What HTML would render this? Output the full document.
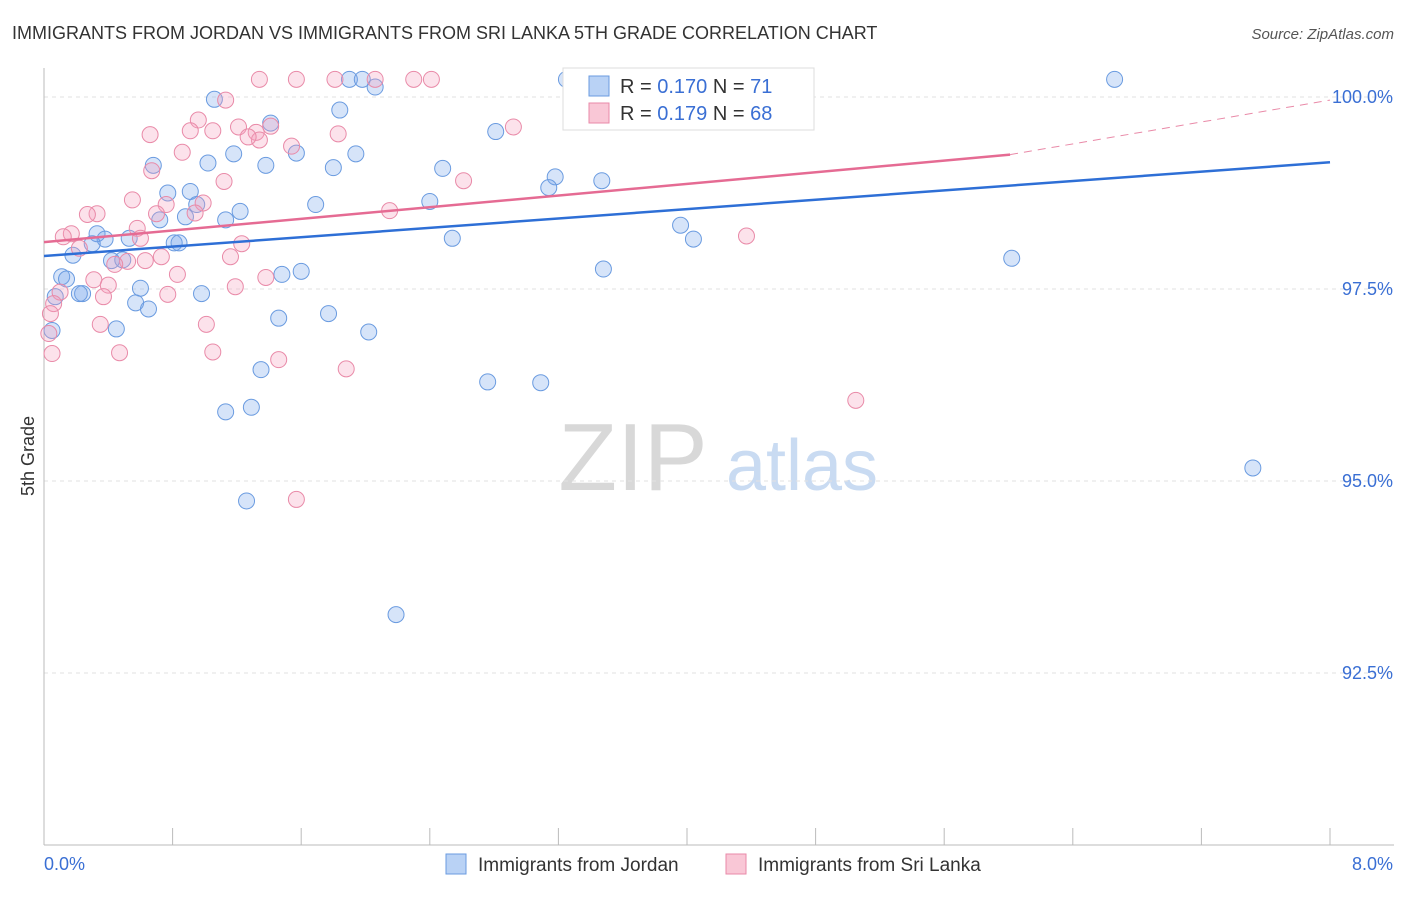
<!DOCTYPE html>
<html><head><meta charset="utf-8"><style>
body{margin:0;background:#fff;font-family:"Liberation Sans",sans-serif}
svg text{font-family:"Liberation Sans",sans-serif}
</style></head><body>
<svg id="chart" width="1406" height="892" viewBox="0 0 1406 892" xmlns="http://www.w3.org/2000/svg">
<text x="12" y="39" font-size="18" fill="#333">IMMIGRANTS FROM JORDAN VS IMMIGRANTS FROM SRI LANKA 5TH GRADE CORRELATION CHART</text>
<text x="1394" y="39" font-size="15" fill="#555" font-style="italic" text-anchor="end">Source: ZipAtlas.com</text>
<g>
<text x="633" y="490" font-size="96" fill="#d8d8d8" font-family="Liberation Serif" text-anchor="middle">ZIP</text>
<text x="802" y="490" font-size="72" fill="#c9dbf2" text-anchor="middle">atlas</text>
</g>
<g id="grid"></g>
<g id="axes"></g>
<g id="marks"></g>
<text x="34" y="456" font-size="18" fill="#333" transform="rotate(-90 34 456)" text-anchor="middle">5th Grade</text>
<g>
<rect x="563" y="68" width="251" height="62" fill="#fff" stroke="#ddd"/>
<rect x="589" y="76" width="20" height="20" fill="#b9d2f5" stroke="#6a9be0"/>
<rect x="589" y="103" width="20" height="20" fill="#f9c7d6" stroke="#e98aa8"/>
<text x="620" y="93" font-size="20" fill="#333">R = <tspan fill="#3a6fd4">0.170</tspan>   N = <tspan fill="#3a6fd4"> 71</tspan></text>
<text x="620" y="120" font-size="20" fill="#333">R = <tspan fill="#3a6fd4">0.179</tspan>   N = <tspan fill="#3a6fd4">68</tspan></text>
</g>
<g>
<rect x="446" y="854" width="20" height="20" fill="#b9d2f5" stroke="#6a9be0"/>
<text x="478" y="871" font-size="19" fill="#333">Immigrants from Jordan</text>
<rect x="726" y="854" width="20" height="20" fill="#f9c7d6" stroke="#e98aa8"/>
<text x="758" y="871" font-size="19" fill="#333">Immigrants from Sri Lanka</text>
</g>
</svg>
<script>
const xTicks=[0,0.8,1.6,2.4,3.2,4.0,4.8,5.6,6.4,7.2,8.0];
const yTicks=[92.5,95,97.5,100];
const yTickLabels=["92.5%","95.0%","97.5%","100.0%"];
const jordanX=[6.66,1.06,1.84,1.41,2.06,1.90,1.98,3.25,3.40,3.71,4.32,4.58,2.81,1.57,1.94,1.02,1.18,1.38,1.80,2.48,0.68,0.77,0.91,0.95,1.22,1.13,0.88,0.72,1.69,2.40,3.18,3.14,3.47,3.96,4.04,2.54,0.53,0.33,0.38,0.30,0.18,0.81,0.84,0.42,0.49,0.11,0.14,0.07,0.24,0.22,0.60,0.57,0.65,0.98,1.48,1.60,3.48,6.02,0.45,1.46,1.77,2.02,0.05,1.35,2.76,3.09,1.13,1.29,1.26,2.19,7.52];
const jordanY=[100.23,99.97,99.83,99.66,100.13,100.23,100.23,100.23,100.23,100.23,100.23,100.23,99.55,99.27,99.26,99.14,99.26,99.11,99.08,99.07,99.11,98.75,98.77,98.60,98.51,98.40,98.44,98.40,98.60,98.64,98.96,98.82,98.91,98.33,98.15,98.16,98.16,98.22,98.15,98.09,97.94,98.10,98.10,97.87,97.88,97.66,97.63,97.40,97.44,97.44,97.51,97.32,97.24,97.44,97.69,97.73,97.76,97.90,96.98,97.12,97.18,96.94,96.96,96.45,96.29,96.28,95.90,95.96,94.74,93.26,95.17];
const lankaX=[1.13,1.34,1.57,1.81,2.06,2.30,2.41,0.66,0.96,1.21,1.32,1.34,1.41,1.54,1.27,1.83,2.92,1.05,0.91,0.86,1.12,2.61,0.67,0.55,0.76,0.99,0.33,0.27,0.70,0.94,0.58,0.17,0.60,2.15,4.37,1.23,1.16,0.73,0.63,0.52,0.44,0.12,0.22,0.83,1.38,1.19,0.31,0.40,0.37,0.77,0.10,0.06,0.04,1.01,0.35,0.03,0.05,0.47,1.05,1.46,1.88,5.05,1.57];
const lankaY=[99.96,100.23,100.23,100.23,100.23,100.23,100.23,99.51,99.70,99.61,99.54,99.44,99.62,99.36,99.48,99.52,99.61,99.56,99.56,99.28,98.90,98.91,99.04,98.66,98.60,98.62,98.48,98.47,98.48,98.49,98.29,98.22,98.16,98.52,98.19,98.09,97.92,97.92,97.87,97.86,97.82,98.18,98.03,97.69,97.65,97.53,97.62,97.55,97.40,97.43,97.46,97.31,97.18,97.04,97.04,96.92,96.66,96.67,96.68,96.58,96.46,96.05,94.76];
const jordanTrend=[[0,97.93],[8,99.15]];
const lankaTrendSolid=[[0,98.11],[6.01,99.25]];
const lankaTrendDash=[[6.01,99.25],[8,99.96]];
const NS="http://www.w3.org/2000/svg";
const X0=44,X1=1330,Y100=97,PX_PER=192/2.5;
function sx(v){return X0+(v/8)*(X1-X0);}
function sy(v){return Y100+(100-v)*PX_PER;}
function mk(tag,attrs,parent){const e=document.createElementNS(NS,tag);for(const k in attrs)e.setAttribute(k,attrs[k]);document.getElementById(parent).appendChild(e);return e;}
yTicks.forEach((t,i)=>{
  const l=mk('line',{x1:X0,x2:1394,y1:sy(t),y2:sy(t),stroke:'#e2e2e2','stroke-dasharray':'4,4'},'grid');
  
  
  const tx=mk('text',{x:1393,y:sy(t)+6,'font-size':18,fill:'#3a6fd4','text-anchor':'end'},'axes');
  tx.textContent=yTickLabels[i];
  
  
});
const ax=mk('line',{x1:X0,x2:X0,y1:68,y2:845,stroke:'#bbb'},'axes');


const bx=mk('line',{x1:X0,x2:1394,y1:845,y2:845,stroke:'#bbb'},'axes');


xTicks.forEach(t=>{
  const l=mk('line',{x1:sx(t),x2:sx(t),y1:828,y2:845,stroke:'#bbb'},'axes');
  
  
});
const xl=mk('text',{x:44,y:870,'font-size':18,fill:'#3a6fd4'},'axes');xl.textContent='0.0%';


const xr=mk('text',{x:1393,y:870,'font-size':18,fill:'#3a6fd4','text-anchor':'end'},'axes');xr.textContent='8.0%';


function pts(xs,ys,fill,stroke,name){
  xs.forEach((x,i)=>{
    const c=mk('circle',{cx:sx(x),cy:sy(ys[i]),r:8,fill:fill,stroke:stroke,'stroke-width':1},'marks');
    
    
  });
}
pts(jordanX,jordanY,'rgba(120,165,235,0.3)','#6a9be0','jordan-point');
pts(lankaX,lankaY,'rgba(245,160,190,0.3)','#e98aa8','srilanka-point');
function line(p,stroke,dash,name){
  const l=mk('line',{x1:sx(p[0][0]),y1:sy(p[0][1]),x2:sx(p[1][0]),y2:sy(p[1][1]),stroke:stroke,'stroke-width':dash?1:2.5},'marks');
  if(dash)l.setAttribute('stroke-dasharray','8,6');
  
  
}
line(jordanTrend,'#2e6fd6',false,'jordan-trendline');
line(lankaTrendSolid,'#e56b93',false,'srilanka-trendline');
line(lankaTrendDash,'#e98aa8',true,'srilanka-trendline-extension');
</script>
</body></html>
